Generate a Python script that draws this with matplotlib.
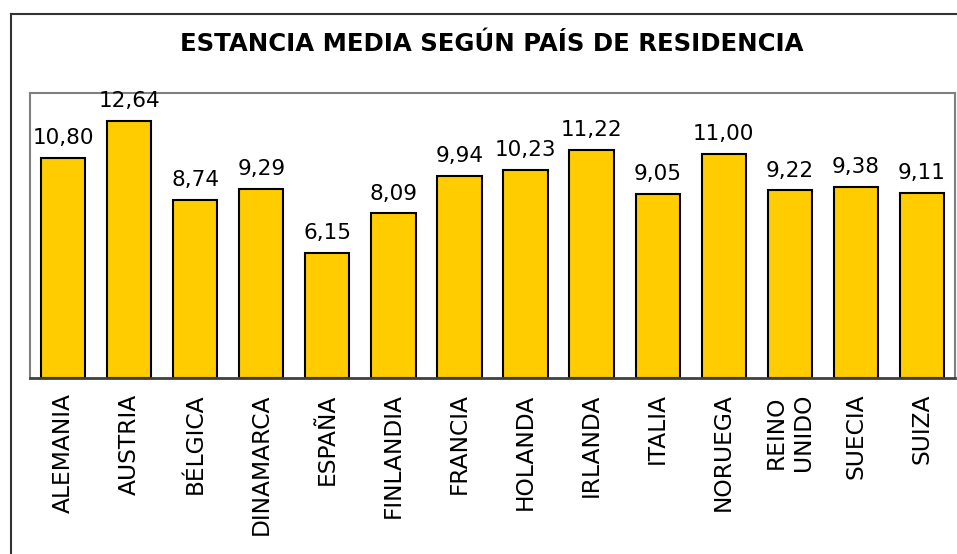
import matplotlib
matplotlib.use("Agg")
import matplotlib.pyplot as plt
from matplotlib.lines import Line2D

categories = ["ALEMANIA", "AUSTRIA", "BÉLGICA", "DINAMARCA", "ESPAÑA", "FINLANDIA",
              "FRANCIA", "HOLANDA", "IRLANDA", "ITALIA", "NORUEGA", "REINO\nUNIDO",
              "SUECIA", "SUIZA"]
values = [10.80, 12.64, 8.74, 9.29, 6.15, 8.09, 9.94, 10.23, 11.22, 9.05, 11.00, 9.22, 9.38, 9.11]
title = "ESTANCIA MEDIA SEGÚN PAÍS DE RESIDENCIA"

plt.rcParams['font.family'] = ['DejaVu Sans']

W, H = 957, 554
fig = plt.figure(figsize=(W/100, H/100), dpi=100)
ax = fig.add_axes([30/W, 1-378/H, (955-30)/W, (378-93)/H])

x = list(range(len(categories)))
bars = ax.bar(x, values, width=0.67, color="#FFCC00", edgecolor="black", linewidth=1.5)
for xi, v in zip(x, values):
    ax.annotate(f"{v:.2f}".replace(".", ","), (xi, v), xytext=(0, 7),
                textcoords="offset points", ha="center", va="bottom", fontsize=15.5)

ax.set_xlim(-0.5, len(categories)-0.5)
ax.set_ylim(0, 14)
ax.set_yticks([])
ax.set_xticks(x)
ax.set_xticklabels(categories, rotation=90, fontsize=16.8, va="top", ha="center",
                   linespacing=1.2)
ax.tick_params(axis="x", length=0, pad=11)
for s in ["top", "right", "left"]:
    ax.spines[s].set_color("#808080")
    ax.spines[s].set_linewidth(1.5)
ax.spines["bottom"].set_color("#404040")
ax.spines["bottom"].set_linewidth(2)

fig.text(492/W, 1-44/H, title, ha="center", va="center", fontsize=17.6, fontweight="bold")

# outer frame (left and top)
fig.add_artist(Line2D([11/W, 11/W], [1-14/H, 0], transform=fig.transFigure, color="#333333", lw=1.5))
fig.add_artist(Line2D([11/W, 1], [1-14/H, 1-14/H], transform=fig.transFigure, color="#333333", lw=1.5))

fig.savefig("out.png", dpi=100)
